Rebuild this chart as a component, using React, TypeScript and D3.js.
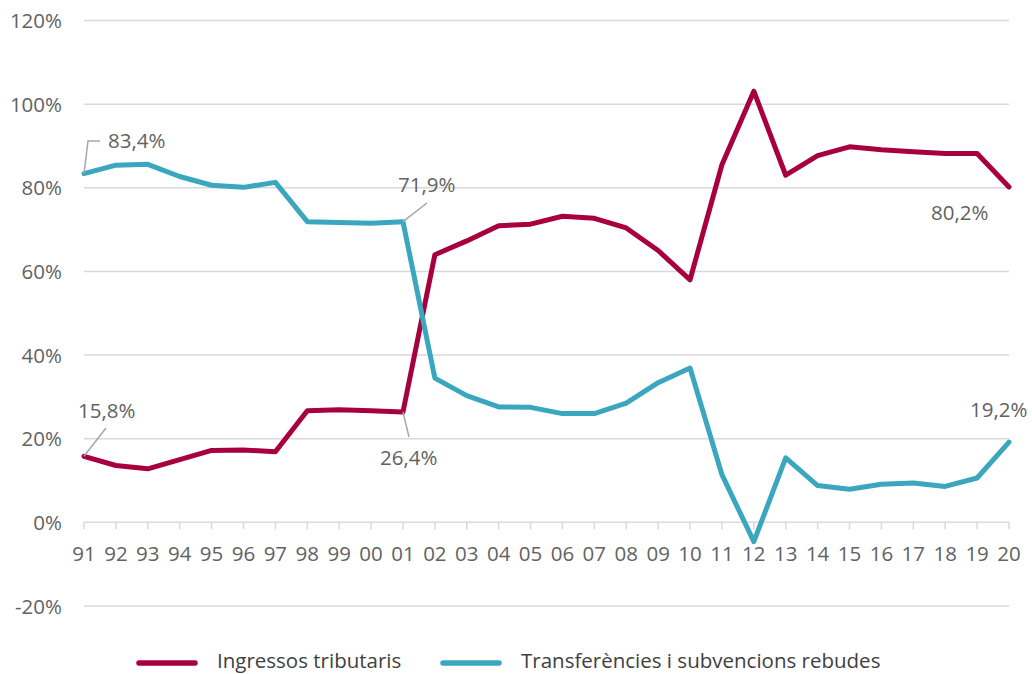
import React from "react";
import * as d3 from "d3";

const years = ["91","92","93","94","95","96","97","98","99","00","01","02","03","04","05","06","07","08","09","10","11","12","13","14","15","16","17","18","19","20"];
const ingressos = [15.8,13.6,12.8,15.0,17.2,17.3,16.9,26.7,26.9,26.7,26.4,64.0,67.3,70.9,71.3,73.2,72.7,70.4,65.0,58.0,85.5,103.1,83.0,87.7,89.8,89.1,88.6,88.2,88.2,80.2];
const transferencies = [83.4,85.4,85.6,82.7,80.6,80.1,81.3,71.9,71.7,71.5,71.9,34.5,30.3,27.6,27.5,26.0,26.0,28.5,33.4,36.9,11.4,-4.6,15.4,8.8,7.9,9.1,9.4,8.6,10.6,19.2];
const yTicks = [-20,0,20,40,60,80,100,120];
const seriesNames = ["Ingressos tributaris","Transferències i subvencions rebudes"];
const colors = ["#A8003F","#3AA7BF"];

const W = 1032, H = 674;
const FONT = "'Open Sans', sans-serif";

export default function App() {
  const x = d3.scalePoint<string>().domain(years).range([84, 1009]);
  const y = d3.scaleLinear().domain([-20, 120]).range([606, 20.5]);
  const line = d3.line<number>().x((_, i) => x(years[i])!).y(d => y(d));
  const fmt = (v: number) => v.toFixed(1).replace(".", ",") + "%";
  const px = (i: number) => x(years[i])!;

  const labels = [
    { v: transferencies[0], tx: 108, ty: 148, lead: [[84, y(transferencies[0])], [88, 141], [100, 141]] },
    { v: ingressos[0], tx: 78, ty: 418, lead: [[84, y(ingressos[0])], [106, 428]] },
    { v: transferencies[10], tx: 398, ty: 192, lead: [[px(10), y(transferencies[10])], [427, 203]] },
    { v: ingressos[10], tx: 380, ty: 465, lead: [[px(10), y(ingressos[10])], [409, 437]] },
    { v: ingressos[29], tx: 931, ty: 220, lead: null },
    { v: transferencies[29], tx: 970, ty: 417, lead: null },
  ];

  return (
    <svg width={W} height={H} style={{ position: "absolute", left: 0, top: 0 }} fontFamily={FONT}>
      <rect width={W} height={H} fill="#fff" />
      {yTicks.map(t => (
        <g key={t}>
          <line x1={84} x2={1009} y1={y(t)} y2={y(t)} stroke="#D9D9D9" strokeWidth={1.5} />
          <text x={62} y={y(t) + 7.5} textAnchor="end" fontSize={20.5} fill="#626262">{t}%</text>
        </g>
      ))}
      {years.map((yr, i) => (
        <g key={yr}>
          <line x1={px(i)} x2={px(i)} y1={y(0)} y2={y(0) + 7} stroke="#D9D9D9" strokeWidth={1.5} />
          <text x={px(i)} y={561} textAnchor="middle" fontSize={20.5} fill="#626262">{yr}</text>
        </g>
      ))}
      <path d={line(ingressos)!} fill="none" stroke={colors[0]} strokeWidth={5} strokeLinejoin="round" strokeLinecap="round" />
      <path d={line(transferencies)!} fill="none" stroke={colors[1]} strokeWidth={5} strokeLinejoin="round" strokeLinecap="round" />
      {labels.map((l, k) => (
        <g key={k}>
          {l.lead && (
            <polyline points={l.lead.map(p => p.join(",")).join(" ")} fill="none" stroke="#A6A6A6" strokeWidth={1.5} />
          )}
          <text x={l.tx} y={l.ty} fontSize={20.5} fill="#626262">{fmt(l.v)}</text>
        </g>
      ))}
      {seriesNames.map((n, k) => {
        const lx = k === 0 ? 139 : 443;
        return (
          <g key={n}>
            <line x1={lx} x2={lx + 56} y1={663} y2={663} stroke={colors[k]} strokeWidth={5.5} strokeLinecap="round" />
            <text x={lx + 78} y={668} fontSize={20.5} fill="#404040">{n}</text>
          </g>
        );
      })}
    </svg>
  );
}
